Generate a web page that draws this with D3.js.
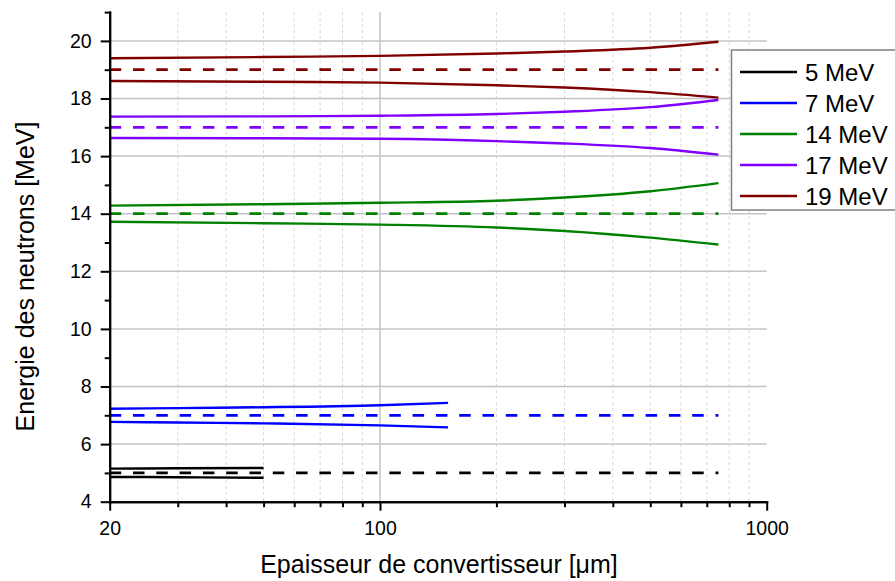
<!DOCTYPE html>
<html>
<head>
<meta charset="utf-8">
<script src="https://cdn.jsdelivr.net/npm/d3@7"></script>
<style>
  html, body { margin: 0; padding: 0; background: #fff; }
  svg { display: block; }
  text { font-family: "Liberation Sans", Arial, sans-serif; fill: #000; }
</style>
</head>
<body>
<svg id="chart" width="895" height="581"></svg>
<script>
// ---------- data ----------
const energies = ["5 MeV", "7 MeV", "14 MeV", "17 MeV", "19 MeV"];
const nominal = [5, 7, 14, 17, 19];
const colors = ["#000000", "#0000ff", "#008000", "#8000ff", "#800000"];

const x5 = [20, 30, 50];
const up5 = [5.15, 5.16, 5.17];
const lo5 = [4.86, 4.85, 4.83];

const x7 = [20, 30, 50, 100, 150];
const up7 = [7.23, 7.25, 7.28, 7.35, 7.43];
const lo7 = [6.77, 6.75, 6.72, 6.65, 6.58];

const xHi = [20, 50, 100, 200, 300, 500, 750];
const up14 = [14.28, 14.33, 14.38, 14.45, 14.56, 14.78, 15.06];
const lo14 = [13.72, 13.67, 13.62, 13.52, 13.40, 13.17, 12.93];
const up17 = [17.37, 17.38, 17.40, 17.46, 17.54, 17.70, 17.95];
const lo17 = [16.63, 16.62, 16.60, 16.52, 16.44, 16.28, 16.05];
const up19 = [19.40, 19.44, 19.48, 19.56, 19.63, 19.76, 19.97];
const lo19 = [18.61, 18.58, 18.55, 18.46, 18.38, 18.22, 18.03];

const nominalRange = [20, 750];

const xMajorTicks = [20, 100, 1000];
const xMinorTicks = [30, 40, 50, 60, 70, 80, 90, 200, 300, 400, 500, 600, 700, 800, 900];
const yMajorTicks = [4, 6, 8, 10, 12, 14, 16, 18, 20];
const yMinorTicks = [5, 7, 9, 11, 13, 15, 17, 19, 21];

const xTitle = "Epaisseur de convertisseur [\u03BCm]";
const yTitle = "Energie des neutrons [MeV]";

// ---------- layout ----------
const svg = d3.select("#chart");
const L = 109.7, R = 766.7, T = 12.1, B = 501.7;

const x = d3.scaleLog().domain([20, 1000]).range([L, R]);
const y = d3.scaleLinear().domain([4, 21]).range([B, T]);

// gridlines
const grid = svg.append("g");
grid.selectAll(".minx").data(xMinorTicks).join("line")
  .attr("x1", d => x(d)).attr("x2", d => x(d)).attr("y1", T).attr("y2", B)
  .attr("stroke", "#d6d6d6").attr("stroke-width", 1).attr("stroke-dasharray", "3,3");
grid.selectAll(".majx").data([100]).join("line")
  .attr("x1", d => x(d)).attr("x2", d => x(d)).attr("y1", T).attr("y2", B)
  .attr("stroke", "#c4c4c4").attr("stroke-width", 1.5);
grid.selectAll(".majy").data(yMajorTicks.filter(d => d > 4)).join("line")
  .attr("x1", L).attr("x2", R).attr("y1", d => y(d)).attr("y2", d => y(d))
  .attr("stroke", "#c4c4c4").attr("stroke-width", 1.5);

// series
const series = [
  { xs: x5, up: up5, lo: lo5 },
  { xs: x7, up: up7, lo: lo7 },
  { xs: xHi, up: up14, lo: lo14 },
  { xs: xHi, up: up17, lo: lo17 },
  { xs: xHi, up: up19, lo: lo19 }
];

const line = d3.line().x(d => x(d[0])).y(d => y(d[1])).curve(d3.curveMonotoneX);
const plot = svg.append("g");

series.forEach((s, i) => {
  plot.append("path")
    .attr("d", line(nominalRange.map(v => [v, nominal[i]])))
    .attr("fill", "none").attr("stroke", colors[i]).attr("stroke-width", 2.7)
    .attr("stroke-dasharray", "11.5,11.8");
  [s.up, s.lo].forEach(arr => {
    plot.append("path")
      .attr("d", line(s.xs.map((v, k) => [v, arr[k]])))
      .attr("fill", "none").attr("stroke", colors[i]).attr("stroke-width", 2.4);
  });
});

// axes
const fmt = d3.format("d");
const yAxis = svg.append("g").attr("transform", `translate(${L},0)`)
  .call(d3.axisLeft(y).tickValues(yMajorTicks).tickFormat(fmt).tickSize(9).tickSizeOuter(0).tickPadding(9));
const yAxisMinor = svg.append("g").attr("transform", `translate(${L},0)`)
  .call(d3.axisLeft(y).tickValues(yMinorTicks).tickFormat("").tickSize(5).tickSizeOuter(0));
const xAxis = svg.append("g").attr("transform", `translate(0,${B})`)
  .call(d3.axisBottom(x).tickValues(xMajorTicks).tickFormat(fmt).tickSize(9).tickSizeOuter(0).tickPadding(10));
const xAxisMinor = svg.append("g").attr("transform", `translate(0,${B})`)
  .call(d3.axisBottom(x).tickValues(xMinorTicks).tickFormat("").tickSize(5.5).tickSizeOuter(0));

[yAxis, yAxisMinor, xAxis, xAxisMinor].forEach(g => {
  g.selectAll("path.domain").attr("stroke", "#000").attr("stroke-width", 2);
  g.selectAll(".tick line").attr("stroke", "#000").attr("stroke-width", 2);
  g.selectAll(".tick text").attr("font-size", 19.5).attr("font-family", "Liberation Sans, Arial, sans-serif").attr("fill", "#000");
});
svg.selectAll("path.domain").attr("stroke-linecap", "square");

// axis titles
svg.append("text").attr("x", 439).attr("y", 573)
  .attr("text-anchor", "middle").attr("font-size", 25).text(xTitle);
svg.append("text").attr("transform", "translate(33.5,276.5) rotate(-90)")
  .attr("text-anchor", "middle").attr("font-size", 25).text(yTitle);

// legend
const lg = svg.append("g");
lg.append("rect").attr("x", 731.5).attr("y", 50).attr("width", 200).attr("height", 160)
  .attr("fill", "#fff").attr("stroke", "#808080").attr("stroke-width", 1.5);
energies.forEach((name, i) => {
  const yy = 72 + i * 31;
  lg.append("line").attr("x1", 740).attr("x2", 797).attr("y1", yy).attr("y2", yy)
    .attr("stroke", colors[i]).attr("stroke-width", 2.5);
  lg.append("text").attr("x", 805).attr("y", yy + 8.5).attr("font-size", 24).text(name);
});
</script>
</body>
</html>
